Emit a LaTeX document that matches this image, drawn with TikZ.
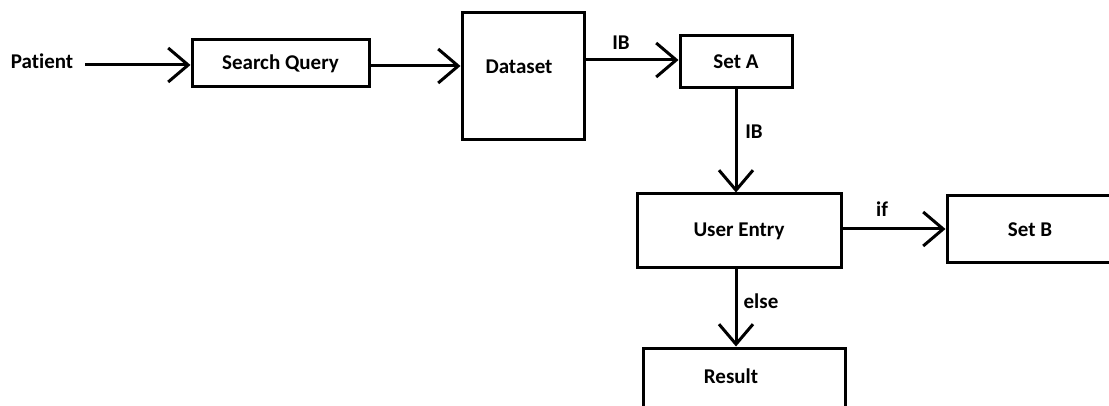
\documentclass[tikz,border=0pt]{standalone}
\usepackage{fontspec}
\setmainfont[Ligatures=NoCommon]{Carlito}
\usetikzlibrary{arrows.meta}
\begin{document}
\begin{tikzpicture}[x=1pt,y=-1pt,
  box/.style={draw=black,line width=3pt,inner sep=0pt,font=\bfseries\fontsize{21}{24}\selectfont},
  lbl/.style={font=\bfseries\fontsize{21}{24}\selectfont,inner sep=0pt},
  conn/.style={line width=3pt,-{Straight Barb[length=20pt,width=34pt,line width=3pt]}}]
\useasboundingbox (0,0) rectangle (1109,406);
\node[lbl] (patient) at (42,61) {Patient};
\node[box,minimum width=177pt,minimum height=47pt] (sq) at (280.5,63.5) {Search Query};
\node[box,minimum width=122pt,minimum height=127pt] (ds) at (523,76.5) {};
\node[lbl] at (519,67) {Dataset};
\node[box,minimum width=112pt,minimum height=52pt] (seta) at (736,62) {Set A};
\node[box,minimum width=204pt,minimum height=74pt] (ue) at (739,231) {User Entry};
\node[box,minimum width=166pt,minimum height=67pt] (setb) at (1030,229.5) {Set B};
\node[box,minimum width=202pt,minimum height=80pt] (res) at (744,388) {};
\node[lbl] at (731,376) {Result};
\coordinate (pstart) at (85,65);
\draw[conn] (pstart) -- (sq.west |- pstart);
\draw[conn] (sq.east |- 0,66) -- (ds.west |- 0,66);
\draw[conn] (ds.east |- 0,60) -- (seta.west |- 0,60);
\node[lbl] at (621,43) {IB};
\draw[conn] (seta.south) -- (ue.north -| seta.south);
\node[lbl] at (754,132) {IB};
\draw[conn] (ue.east |- 0,229) -- (setb.west |- 0,229);
\node[lbl] at (882,209) {if};
\draw[conn] (ue.south -| seta.south) -- (res.north -| seta.south);
\node[lbl] at (761,301) {else};
\end{tikzpicture}
\end{document}
